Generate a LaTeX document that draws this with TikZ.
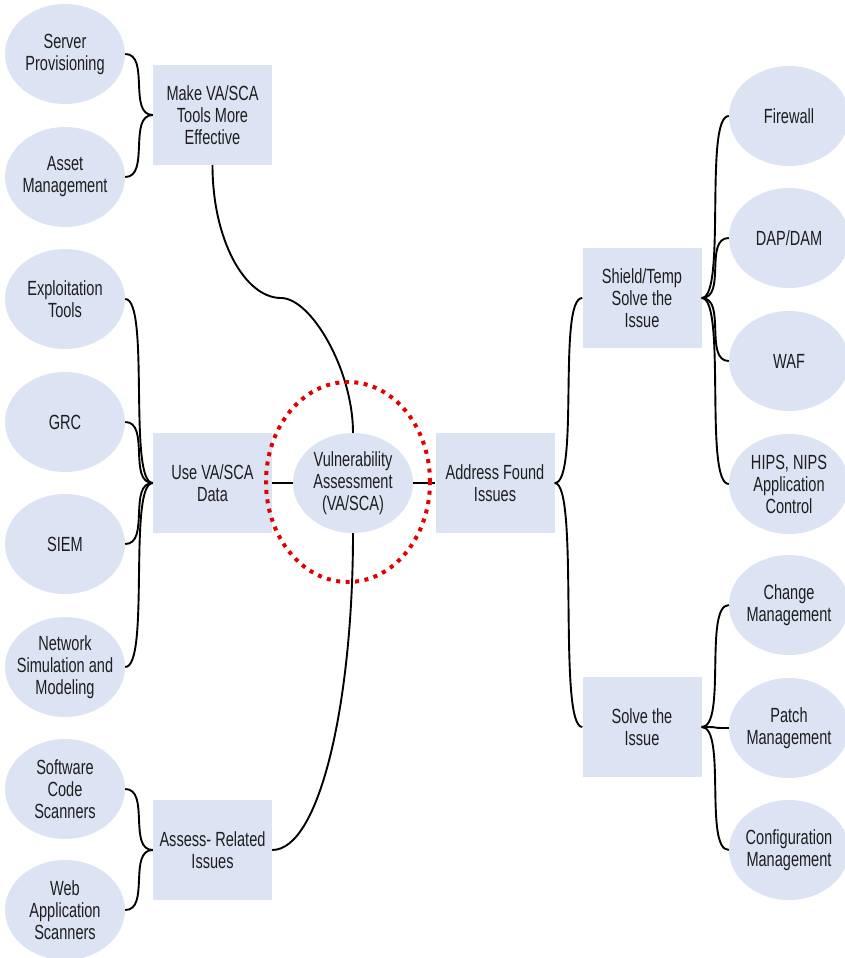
\documentclass[tikz,border=0pt]{standalone}
\usepackage{fontspec}
\setmainfont{Liberation Sans}[FakeStretch=0.71]
\usetikzlibrary{shapes.geometric}
\definecolor{bubblefill}{RGB}{220,228,243}
\definecolor{inkgray}{RGB}{30,30,30}
\definecolor{ringred}{RGB}{226,0,0}
\begin{document}
\begin{tikzpicture}[x=1pt,y=-1pt,
  every node/.style={font=\fontsize{20.5}{22}\selectfont, text=inkgray, align=center},
  bubble/.style={ellipse, fill=bubblefill, minimum width=120pt, minimum height=100pt,
                 inner xsep=-25pt, inner ysep=-10pt},
  topic/.style={rectangle, fill=bubblefill, minimum width=119pt, minimum height=100pt,
                inner sep=0pt},
  link/.style={draw=black, line width=1.9pt},
  ring/.style={draw=ringred, line width=4pt, dash pattern=on 4pt off 5.5pt}
]
\useasboundingbox (0,0) rectangle (844,958);

% left-hand sources
\node[bubble] (srv)    at (65,54)  {Server\\Provisioning};
\node[bubble] (asset)  at (65,177) {Asset\\Management};
\node[bubble] (expl)   at (65,299) {Exploitation\\Tools};
\node[bubble] (grc)    at (65,422) {GRC};
\node[bubble] (siem)   at (65,544) {SIEM};
\node[bubble] (netsim) at (65,667) {Network\\Simulation and\\Modeling};
\node[bubble] (swc)    at (65,789) {Software\\Code\\Scanners};
\node[bubble] (webapp) at (65,910) {Web\\Application\\Scanners};

% left-hand topics
\node[topic] (make)   at (212.5,115) {Make VA/SCA\\Tools More\\Effective};
\node[topic] (use)    at (212.5,483) {Use VA/SCA\\Data};
\node[topic] (assess) at (212.5,850) {Assess- Related\\Issues};

% centre
\node[bubble] (va) at (353,483) {Vulnerability\\Assessment\\(VA/SCA)};

% right-hand topics
\node[topic] (addr)   at (495,483) {Address Found\\Issues};
\node[topic] (shield) at (642,298) {Shield/Temp\\Solve the\\Issue};
\node[topic] (solve)  at (642,727) {Solve the\\Issue};

% right-hand remedies
\node[bubble] (fw)    at (789,116) {Firewall};
\node[bubble] (dap)   at (789,238) {DAP/DAM};
\node[bubble] (waf)   at (789,361) {WAF};
\node[bubble] (hips)  at (789,484) {HIPS, NIPS\\Application\\Control};
\node[bubble] (chg)   at (789,605) {Change\\Management};
\node[bubble] (patch) at (789,728) {Patch\\Management};
\node[bubble] (cfg)   at (789,850) {Configuration\\Management};

% braces on the left
\foreach \s/\t in {srv/make, asset/make, expl/use, grc/use, siem/use, netsim/use,
                   swc/assess, webapp/assess}
  \draw[link] (\s.east) .. controls +(25,0) and +(-25,0) .. (\t.west);

% braces on the right
\foreach \s/\t in {addr/shield, addr/solve, shield/fw, shield/dap, shield/waf, shield/hips,
                   solve/chg, solve/patch, solve/cfg}
  \draw[link] (\s.east) .. controls +(25,0) and +(-25,0) .. (\t.west);

% links into the centre
\coordinate (bend) at (281,298);
\draw[link] (make.south) .. controls +(0,75) and +(-36,0) .. (bend)
            .. controls +(30,0) and +(0,-63) .. (va.north);
\draw[link] (assess.east) .. controls +(48,0) and +(0,167) .. (va.south);
\draw[link] (use.east) -- (va.west);
\draw[link] (va.east) -- (addr.west);

% highlight ring
\draw[ring] (348,482) ellipse [x radius=82pt, y radius=100pt];
\end{tikzpicture}
\end{document}
